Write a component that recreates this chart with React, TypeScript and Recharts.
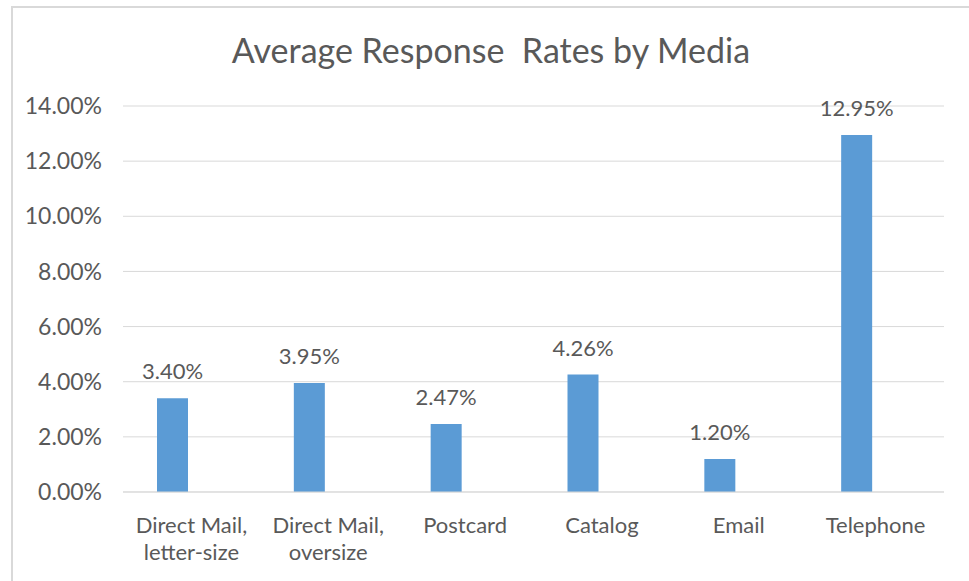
import { BarChart, Bar, XAxis, YAxis, CartesianGrid, LabelList } from 'recharts';

const categories = [
  ['Direct Mail,', 'letter-size'],
  ['Direct Mail,', 'oversize'],
  ['Postcard'],
  ['Catalog'],
  ['Email'],
  ['Telephone'],
];
const responseRates = [3.4, 3.95, 2.47, 4.26, 1.2, 12.95];
// the source chart has a second, empty series that pushes the bars left
const emptySeries = [null, null, null, null, null, null];
const yTicks = [0, 2, 4, 6, 8, 10, 12, 14];

const FONT = 'Lato, "Open Sans", sans-serif';
const TEXT = '#595959';
const BLUE = '#5B9BD5';

const chartData = categories.map((lines, i) => ({
  name: lines.join(' '),
  lines,
  rate: responseRates[i],
  other: emptySeries[i],
}));

const CategoryTick = ({ x, y, index }: any) => {
  const lines = categories[index] || [];
  return (
    <text x={x} y={y} textAnchor="middle" fill={TEXT} fontSize={22} fontFamily={FONT}>
      {lines.map((line, i) => (
        <tspan key={i} x={x} dy={i === 0 ? 39 : 27}>
          {line}
        </tspan>
      ))}
    </text>
  );
};

const App = () => {
  return (
    <div style={{ position: 'absolute', left: 0, top: 0, width: 969, height: 581, overflow: 'hidden', background: '#fff' }}>
      <div
        style={{
          position: 'absolute',
          left: 11,
          top: 6,
          width: 990,
          height: 620,
          border: '2px solid #d9d9d9',
          boxSizing: 'border-box',
        }}
      />
      <div
        style={{
          position: 'absolute',
          left: 11,
          top: 29,
          width: 960,
          textAlign: 'center',
          fontFamily: FONT,
          fontSize: 34,
          lineHeight: '41px',
          color: TEXT,
          whiteSpace: 'pre',
        }}
      >
        {'Average Response  Rates by Media'}
      </div>
      <div style={{ position: 'absolute', left: 0, top: 0 }}>
        <BarChart
          width={969}
          height={581}
          data={chartData}
          margin={{ top: 106, right: 25, bottom: 29, left: 23 }}
          barSize={31}
          barGap={7}
        >
          <CartesianGrid vertical={false} stroke="#d9d9d9" />
          <XAxis
            dataKey="name"
            axisLine={{ stroke: '#d9d9d9' }}
            tickLine={false}
            tickSize={0}
            interval={0}
            height={60}
            tick={<CategoryTick />}
          />
          <YAxis
            domain={[0, 14]}
            ticks={yTicks}
            width={100}
            axisLine={false}
            tickLine={false}
            tickSize={0}
            tickMargin={21}
            tickFormatter={(v: number) => `${v.toFixed(2)}%`}
            tick={{ fill: TEXT, fontSize: 23, fontFamily: FONT }}
          />
          <Bar dataKey="rate" fill={BLUE} isAnimationActive={false}>
            <LabelList
              dataKey="rate"
              position="top"
              offset={19}
              fill={TEXT}
              fontSize={22}
              fontFamily={FONT}
              formatter={(v: any) => `${Number(v).toFixed(2)}%`}
            />
          </Bar>
          <Bar dataKey="other" fill="#ED7D31" isAnimationActive={false} />
        </BarChart>
      </div>
    </div>
  );
};

export default App;
